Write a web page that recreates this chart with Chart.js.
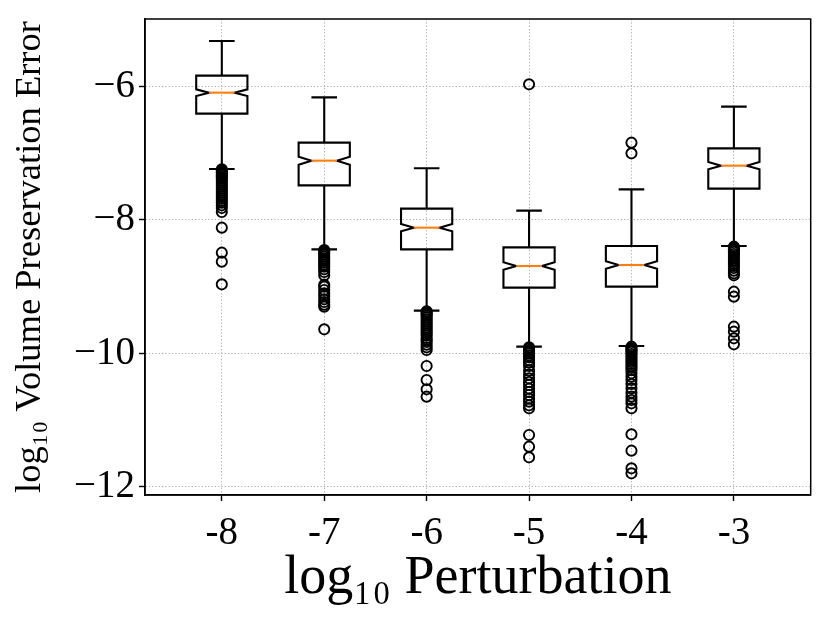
<!DOCTYPE html>
<html>
<head>
<meta charset="utf-8">
<script src="https://cdn.jsdelivr.net/npm/chart.js@4"></script>
<style>
  html, body { margin: 0; padding: 0; background: #ffffff; }
  #wrap { width: 830px; height: 623px; }
</style>
</head>
<body>
<div id="wrap"><canvas id="c" width="830" height="623"></canvas></div>
<script>
// ---- data ----
const categories = ['-8', '-7', '-6', '-5', '-4', '-3'];
const yTicks = [-12, -10, -8, -6];

const whiskerHigh = [-5.315, -6.16, -7.224, -7.86, -7.54, -6.30];
const q3Values    = [-5.835, -6.84, -7.83, -8.41, -8.39, -6.925];
const medians     = [-6.09, -7.11, -8.115, -8.69, -8.675, -7.185];
const q1Values    = [-6.405, -7.48, -8.44, -9.015, -9.0, -7.53];
const whiskerLow  = [-7.235, -8.44, -9.36, -9.90, -9.89, -8.39];
const notchHalf   = [0.05, 0.06, 0.055, 0.058, 0.058, 0.055];

const outliersM8 = [-7.24, -7.26, -7.28, -7.30, -7.32, -7.34, -7.36, -7.38, -7.41, -7.44, -7.47, -7.50,
  -7.53, -7.56, -7.59, -7.62, -7.65, -7.68, -7.71, -7.74, -7.78, -7.82, -7.88, -8.115, -8.49, -8.625, -8.965];
const outliersM7 = [-8.45, -8.47, -8.49, -8.52, -8.55, -8.58, -8.61, -8.64, -8.67, -8.70, -8.74, -8.78, -8.83,
  -8.97, -9.00, -9.05, -9.10, -9.14, -9.19, -9.23, -9.27, -9.30, -9.64];
const outliersM6 = [-9.37, -9.39, -9.41, -9.43, -9.46, -9.49, -9.52, -9.55, -9.58, -9.61, -9.64, -9.67,
  -9.70, -9.73, -9.77, -9.80, -9.83, -9.87, -9.91, -9.95, -10.19, -10.40, -10.54, -10.65];
const outliersM5 = [-5.965, -9.91, -9.93, -9.95, -9.97, -10.00, -10.03, -10.06, -10.10, -10.14, -10.19,
  -10.26, -10.32, -10.375, -10.43, -10.475, -10.53, -10.58, -10.625, -10.68, -10.725, -10.78, -10.825,
  -11.225, -11.40, -11.56];
const outliersM4 = [-6.84, -7.00, -9.90, -9.92, -9.94, -9.96, -9.98, -10.01, -10.04, -10.07, -10.10, -10.13,
  -10.16, -10.19, -10.22, -10.25, -10.30, -10.35, -10.40, -10.46, -10.525, -10.59, -10.65, -10.70, -10.75,
  -10.825, -11.215, -11.46, -11.725, -11.80];
const outliersM3 = [-8.40, -8.42, -8.44, -8.46, -8.48, -8.51, -8.54, -8.57, -8.60, -8.63, -8.66, -8.69,
  -8.72, -8.76, -8.80, -8.83, -9.075, -9.15, -9.60, -9.675, -9.775, -9.865];

const outlierLists = [outliersM8, outliersM7, outliersM6, outliersM5, outliersM4, outliersM3];

// ---- chart ----
const FONT = "'Liberation Serif', 'DejaVu Serif', serif";
Chart.defaults.font.family = FONT;
Chart.defaults.color = '#000000';

const outlierPoints = outlierLists.flatMap((arr, i) => arr.map(v => ({ x: i + 1, y: v })));

function zeroPad(s) { s.paddingTop = 0; s.paddingBottom = 0; s.paddingLeft = 0; s.paddingRight = 0; }

const boxPlugin = {
  id: 'notchedBoxes',
  beforeDatasetsDraw(chart) {
    const { ctx, scales: { x, y } } = chart;
    ctx.save();
    ctx.lineWidth = 2.1;
    ctx.lineJoin = 'miter';
    ctx.lineCap = 'butt';
    for (let i = 0; i < categories.length; i++) {
      const pos = i + 1;
      const xc = x.getPixelForValue(pos);
      const xl = x.getPixelForValue(pos - 0.25);
      const xr = x.getPixelForValue(pos + 0.25);
      const xnl = x.getPixelForValue(pos - 0.125);
      const xnr = x.getPixelForValue(pos + 0.125);
      const yq1 = y.getPixelForValue(q1Values[i]);
      const yq3 = y.getPixelForValue(q3Values[i]);
      const ym = y.getPixelForValue(medians[i]);
      const ynLo = y.getPixelForValue(medians[i] - notchHalf[i]);
      const ynHi = y.getPixelForValue(medians[i] + notchHalf[i]);
      const ywh = y.getPixelForValue(whiskerHigh[i]);
      const ywl = y.getPixelForValue(whiskerLow[i]);

      ctx.strokeStyle = '#000000';
      ctx.beginPath();
      ctx.moveTo(xc, yq1); ctx.lineTo(xc, ywl);
      ctx.moveTo(xc, yq3); ctx.lineTo(xc, ywh);
      ctx.moveTo(xnl, ywl); ctx.lineTo(xnr, ywl);
      ctx.moveTo(xnl, ywh); ctx.lineTo(xnr, ywh);
      ctx.stroke();

      ctx.beginPath();
      ctx.moveTo(xl, yq1);
      ctx.lineTo(xr, yq1);
      ctx.lineTo(xr, ynLo);
      ctx.lineTo(xnr, ym);
      ctx.lineTo(xr, ynHi);
      ctx.lineTo(xr, yq3);
      ctx.lineTo(xl, yq3);
      ctx.lineTo(xl, ynHi);
      ctx.lineTo(xnl, ym);
      ctx.lineTo(xl, ynLo);
      ctx.closePath();
      ctx.stroke();

      ctx.strokeStyle = '#ff7f0e';
      ctx.beginPath();
      ctx.moveTo(xnl, ym); ctx.lineTo(xnr, ym);
      ctx.stroke();
    }
    ctx.restore();
  },
  afterDraw(chart) {
    const { ctx, chartArea: a } = chart;
    ctx.save();
    ctx.strokeStyle = '#000000';
    ctx.lineWidth = 1.5;
    ctx.strokeRect(a.left, a.top, a.right - a.left, a.bottom - a.top);
    ctx.restore();
  }
};

new Chart(document.getElementById('c'), {
  type: 'scatter',
  data: {
    datasets: [{
      data: outlierPoints,
      pointStyle: 'circle',
      pointRadius: 5.1,
      pointHoverRadius: 5.1,
      borderWidth: 1.9,
      borderColor: '#000000',
      backgroundColor: 'rgba(0,0,0,0)',
      clip: false
    }]
  },
  options: {
    responsive: false,
    animation: false,
    events: [],
    layout: { padding: { left: 0, top: 19, right: 19.3, bottom: 0 } },
    plugins: { legend: { display: false }, tooltip: { enabled: false } },
    scales: {
      x: {
        type: 'linear',
        position: 'bottom',
        min: 0.25,
        max: 6.75,
        afterBuildTicks: s => { s.ticks = categories.map((c, i) => ({ value: i + 1 })); },
        afterFit: s => { s.height = 128; zeroPad(s); },
        ticks: {
          callback: v => categories[Math.round(v) - 1],
          font: { size: 39 },
          color: '#000000',
          padding: 9,
          maxRotation: 0,
          autoSkip: false
        },
        grid: {
          color: '#b0b0b0',
          lineWidth: 1,
          drawTicks: true,
          tickLength: 6,
          tickColor: '#000000',
          tickWidth: 1.4,
          tickBorderDash: []
        },
        border: { display: true, color: '#000000', width: 1.5, dash: [1.3, 2] },
        title: {
          display: true,
          text: 'log\u2081\u2080 Perturbation',
          font: { size: 54 },
          color: '#000000',
          padding: { top: 0, bottom: 12 }
        }
      },
      y: {
        type: 'linear',
        min: -12.125,
        max: -4.985,
        afterBuildTicks: s => { s.ticks = yTicks.map(v => ({ value: v })); },
        afterFit: s => { s.width = 145; zeroPad(s); },
        ticks: {
          callback: v => '\u2212' + Math.abs(v),
          font: { size: 39 },
          color: '#000000',
          padding: 4
        },
        grid: {
          color: '#b0b0b0',
          lineWidth: 1,
          drawTicks: true,
          tickLength: 6,
          tickColor: '#000000',
          tickWidth: 1.4,
          tickBorderDash: []
        },
        border: { display: true, color: '#000000', width: 1.5, dash: [1.3, 2] },
        title: {
          display: true,
          text: 'log\u2081\u2080 Volume Preservation Error',
          font: { size: 36.5 },
          color: '#000000',
          padding: { top: 9, bottom: 0 }
        }
      }
    }
  },
  plugins: [boxPlugin]
});
</script>
</body>
</html>
